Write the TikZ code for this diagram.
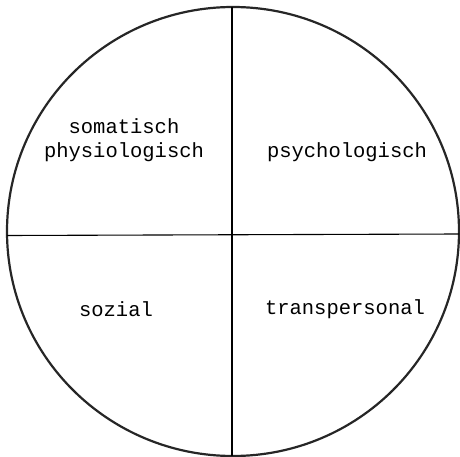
\documentclass[tikz,border=0pt]{standalone}
\usepackage{fontspec}
\setmonofont{Liberation Mono}
\usetikzlibrary{positioning}
\tikzset{
  quadtext/.style={font=\ttfamily\fontsize{20.5}{24}\selectfont,align=center,inner sep=2pt},
  rim/.style={draw=black!85,line width=2.2pt},
  axis/.style={draw=black,line width=1.1pt},
}
\begin{document}
\begin{tikzpicture}[x=1pt,y=-1pt]
  \useasboundingbox (0,0) rectangle (460,457);

  %% -- Outer circle and the two axes --
  \draw[rim] (233,231.5) ellipse[x radius=226,y radius=224.5];
  \coordinate (top)    at (232,7);
  \coordinate (bottom) at (232,456);
  \coordinate (left)   at (7,235.5);
  \coordinate (right)  at (459,234);
  \draw[axis] (top) -- (bottom);
  \draw[axis] (left) -- (right);

  %% -- Quadrant labels --
  \node[quadtext] (soma)  at (124,140) {somatisch\\physiologisch};
  \node[quadtext] (psych) at (347,152) {psychologisch};
  \node[quadtext] (soz)   at (116,309) {sozial};
  \node[quadtext] (trans) at (345,309) {transpersonal};
\end{tikzpicture}
\end{document}
